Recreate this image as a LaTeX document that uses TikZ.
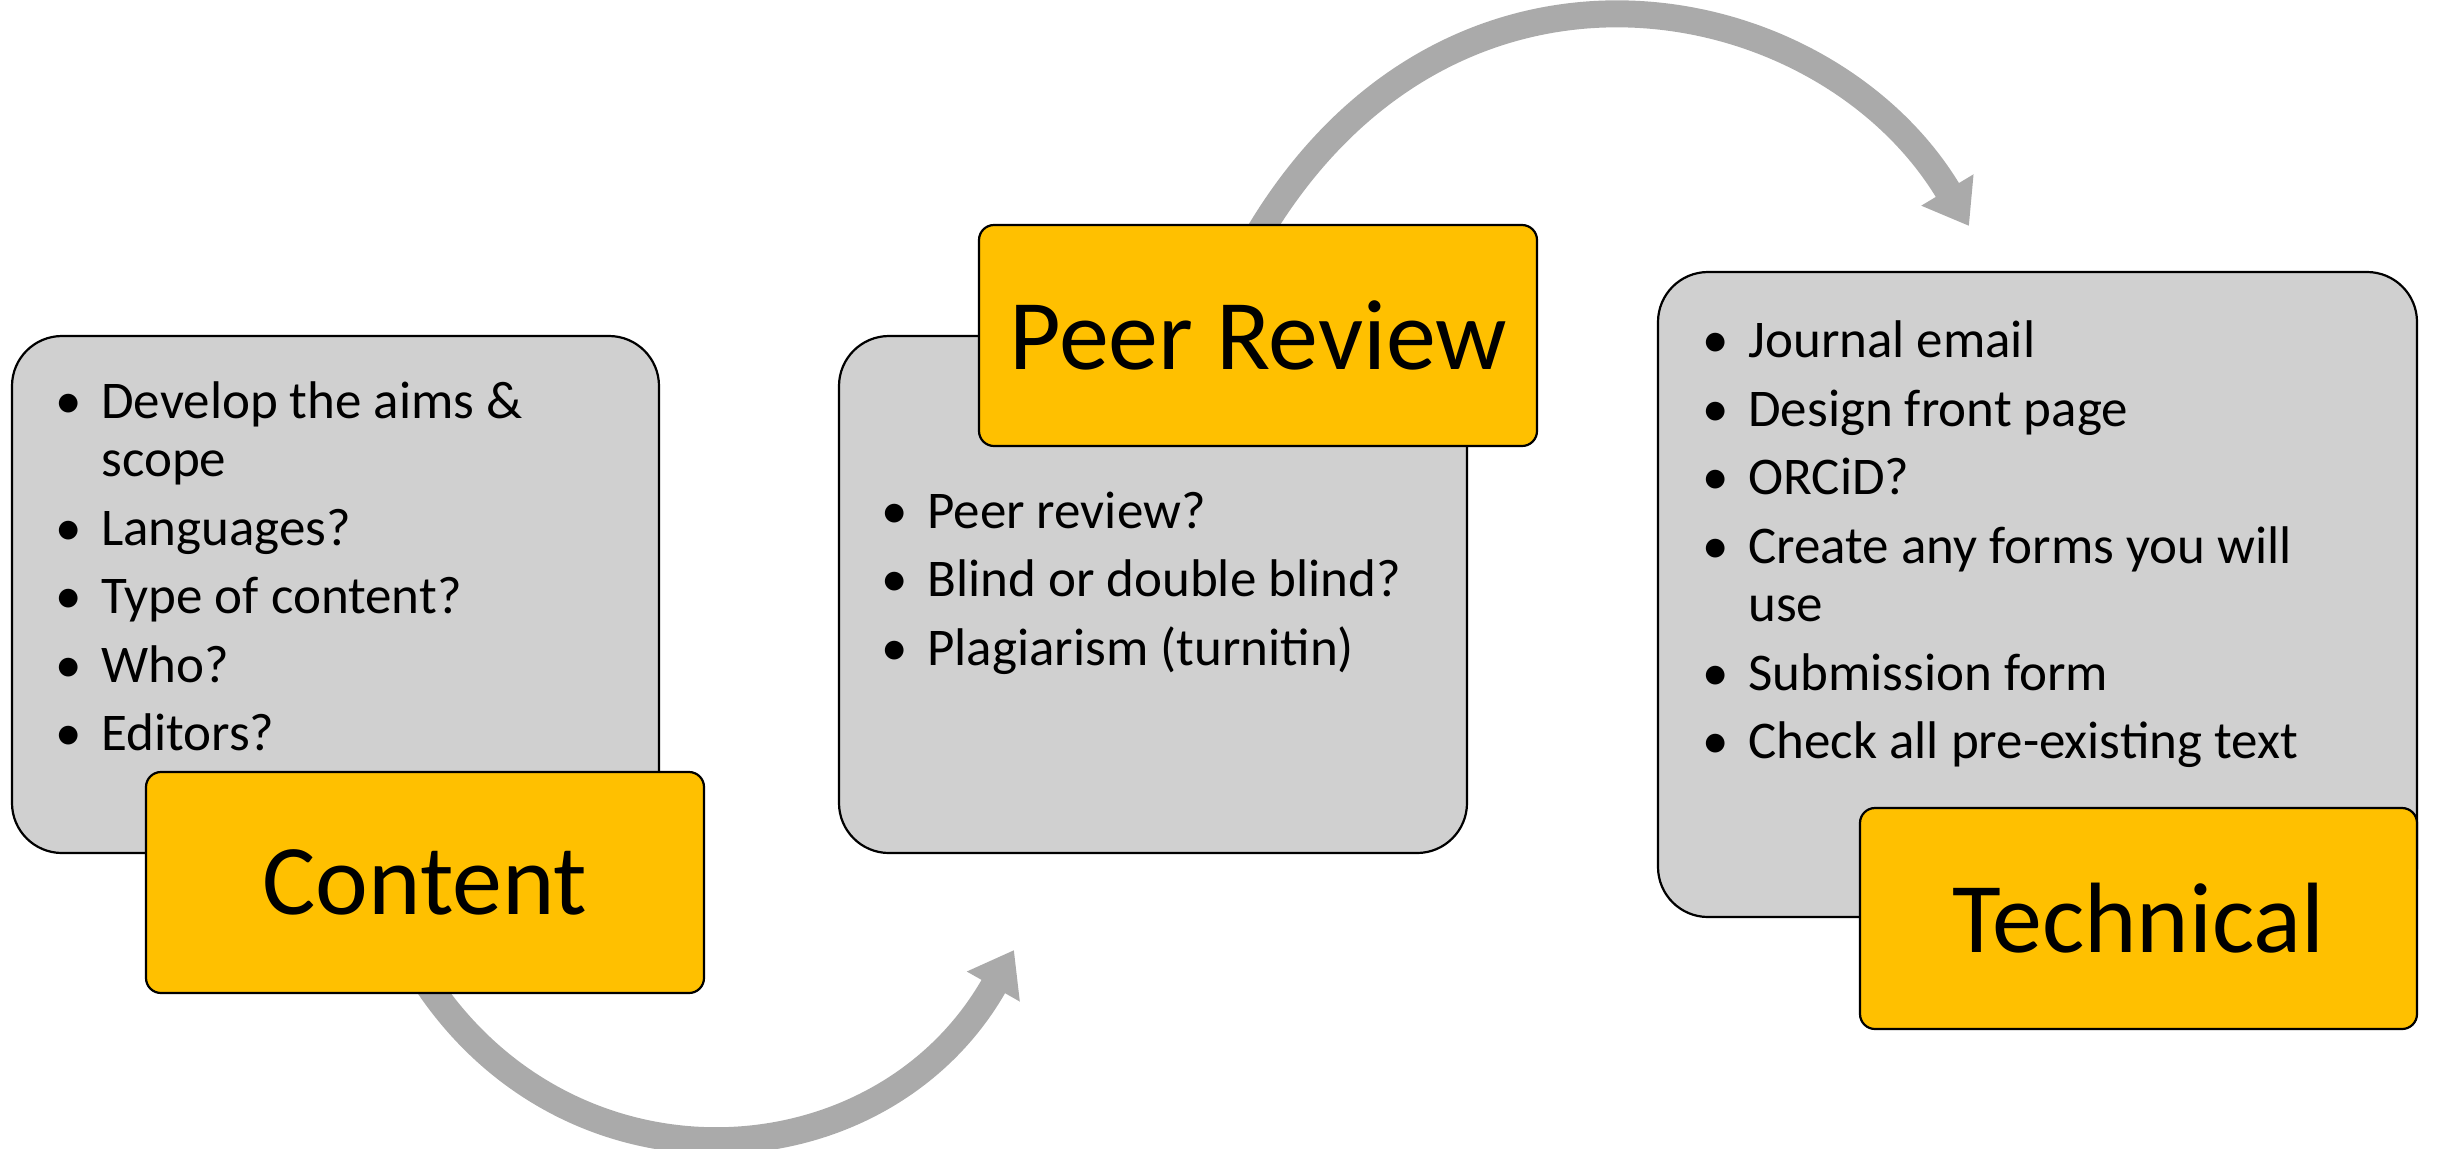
\documentclass[tikz,border=0pt]{standalone}
\usepackage{fontspec}
\setmainfont{Carlito}
\usetikzlibrary{arrows.meta}
\definecolor{boxgray}{HTML}{D0D0D0}
\definecolor{gold}{HTML}{FFC000}
\definecolor{arrowgray}{HTML}{AAAAAA}
\newcommand\bul{\makebox[23pt][l]{\textbullet}}
\newcommand\cont{\hspace*{23pt}}
\newcommand\para{\\[5pt]}
\begin{document}
\begin{tikzpicture}[x=0.5pt,y=-0.5pt,
  panel/.style={draw=black, line width=1.1pt, fill=boxgray, rounded corners=25pt, inner sep=0pt},
  tag/.style={draw=black, line width=1.1pt, fill=gold, rounded corners=7.5pt, inner sep=0pt,
    minimum height=110.5pt, font=\fontsize{50pt}{60pt}\selectfont},
  listtext/.style={anchor=base west, inner sep=0pt, font=\fontsize{26.5pt}{29.25pt}\selectfont},
  flow/.style={draw=arrowgray, line width=13.5pt, -{Triangle[length=21pt,width=29pt]}}]
\useasboundingbox (0,0) rectangle (2437,1148);

% connectors (behind the boxes)
\coordinate (a1s) at (425,980);
\coordinate (a1e) at (1014,950);
\coordinate (a2s) at (1258,235);
\coordinate (a2e) at (1969,226);
\draw[flow] (a1s) .. controls (572,1204) and (882,1183) .. (a1e);
\draw[flow] (a2s) .. controls (1452,-91) and (1825,-14) .. (a2e);

% Content
\node[panel, minimum width=323.5pt, minimum height=258.5pt] (cgray) at (335.5,594.5) {};
\node[listtext] (clist) at (55,418) {\begin{tabular}[t]{@{}l@{}}
\bul Develop the aims \&\\
\cont scope\para
\bul Languages?\para
\bul Type of content?\para
\bul Who?\para
\bul Editors?
\end{tabular}};
\node[tag, minimum width=279pt] (cyel) at (425,882.5) {Content};

% Peer Review
\node[panel, minimum width=314pt, minimum height=258.5pt] (pgray) at (1153,594.5) {};
\node[listtext] (plist) at (881,528) {\begin{tabular}[t]{@{}l@{}}
\bul Peer review?\para
\bul Blind or double blind?\para
\bul Plagiarism (turnitin)
\end{tabular}};
\node[tag, minimum width=279pt] (pyel) at (1258,335.5) {Peer Review};

% Technical
\node[panel, minimum width=379.5pt, minimum height=322.5pt] (tgray) at (2037.5,594.5) {};
\node[listtext] (tlist) at (1702,357.5) {\begin{tabular}[t]{@{}l@{}}
\bul Journal email\para
\bul Design front page\para
\bul ORCiD?\para
\bul Create any forms you will\\
\cont use\para
\bul Submission form\para
\bul Check all pre-existing text
\end{tabular}};
\node[tag, minimum width=278.5pt] (tyel) at (2138.5,918.5) {Technical};
\end{tikzpicture}
\end{document}
